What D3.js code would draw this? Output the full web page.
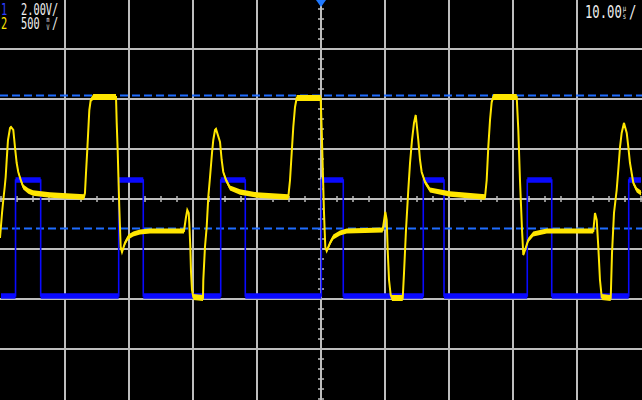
<!DOCTYPE html>
<html><head><meta charset="utf-8">
<script src="https://cdn.jsdelivr.net/npm/d3@7"></script>
<style>html,body{margin:0;padding:0;background:#000;}svg{display:block;}</style>
</head><body>
<svg id="c" width="642" height="400"></svg>
<script>
// ---- data ----
// time axis: 10 us/div, 10 divisions, centred on trigger (0 us)
const timeDomain = [-50, 50];
const ch1Scale = [-8, 8];      // 2.00 V/div, 8 divisions
const ch2Scale = [-2, 2];      // 500 mV/div, 8 divisions
const gridTimes = [-40, -30, -20, -10, 0, 10, 20, 30, 40];
const gridVolts = [-1.5, -1, -0.5, 0, 0.5, 1, 1.5];   // ch2 units
const refLevels = [1.04, -0.29];                      // ch2 units (dashed markers)
const ch1Labels = ["1", "2.00", "V", "/"];
const ch2Labels = ["2", " 500", "m", "V", "/"];
const timeLabels = ["10.00", "µ", "s", "/"];

// CH1 (blue) logic signal: low/high levels and edge times (us)
const ch1Low = -3.88, ch1High = 0.76, ch1Noise = 0.11;
const ch1Edges = [-47.73, -43.80, -31.61, -27.77, -15.67, -11.83, 0.05, 3.48, 15.98, 19.22, 32.23, 36.05, 48.08];

// CH2 (yellow) analog signal: [time us, volts, noise half-band volts]
const ch2 = [
 [-50.16,-0.39,.006],[-49.84,-0.14,.006],[-49.64,-0.01,.006],[-49.42,0.12,.006],[-49.27,0.22,.006],
 [-49.11,0.39,.006],[-48.91,0.59,.006],[-48.59,0.71,.01],[-48.44,0.72,.01],[-48.08,0.69,.01],
 [-47.97,0.62,.006],[-47.77,0.49,.006],[-47.55,0.36,.01],[-47.30,0.27,.015],[-46.92,0.19,.022],
 [-46.52,0.12,.025],[-45.73,0.08,.027],[-45.0,0.06,.027],[-42.34,0.04,.027],[-39.73,0.03,.027],
 [-37.03,0.02,.027],[-36.88,0.06,.006],[-36.72,0.26,.006],[-36.52,0.49,.006],[-36.36,0.69,.006],
 [-36.20,0.89,.006],[-35.98,0.99,.018],[-35.58,1.02,.03],[-32.03,1.02,.03],[-31.92,0.76,.006],
 [-31.77,0.49,.006],[-31.67,0.26,.006],[-31.52,-0.08,.006],[-31.30,-0.48,.006],[-31.09,-0.53,.012],
 [-30.63,-0.44,.022],[-30.11,-0.38,.025],[-29.33,-0.35,.025],[-28.28,-0.33,.025],[-26.72,-0.32,.025],
 [-21.41,-0.32,.025],[-21.09,-0.18,.008],[-20.89,-0.11,.01],[-20.67,-0.14,.008],[-20.58,-0.24,.006],
 [-20.42,-0.48,.006],[-20.31,-0.73,.006],[-20.16,-0.91,.006],[-19.95,-0.98,.03],[-18.44,-0.99,.03],
 [-18.39,-0.81,.006],[-18.13,-0.48,.006],[-17.86,-0.28,.006],[-17.61,0.02,.006],[-17.34,0.22,.006],
 [-17.03,0.46,.006],[-16.83,0.59,.006],[-16.56,0.69,.01],[-16.41,0.70,.01],
 [-15.78,0.57,.006],[-15.52,0.39,.01],[-15.27,0.27,.015],[-14.84,0.19,.022],[-14.22,0.11,.025],
 [-12.66,0.07,.027],[-10.05,0.04,.027],[-5.11,0.02,.027],[-4.84,0.19,.006],[-4.58,0.46,.006],
 [-4.33,0.72,.006],[-4.06,0.92,.006],[-3.80,1.01,.03],[-0.05,1.01,.03],[0.11,0.69,.006],
 [0.27,0.32,.006],[0.47,-0.14,.006],[0.67,-0.48,.006],[0.89,-0.52,.012],[1.41,-0.44,.022],
 [1.92,-0.38,.025],[2.97,-0.34,.025],[4.02,-0.32,.025],[9.64,-0.31,.025],[10.05,-0.13,.008],
 [10.27,-0.21,.006],[10.42,-0.51,.006],[10.63,-0.81,.006],[10.89,-0.96,.006],[11.09,-0.99,.03],
 [12.77,-0.99,.03],[12.97,-0.74,.006],[13.28,-0.31,.006],[13.64,0.09,.006],[13.91,0.36,.006],
 [14.22,0.59,.006],[14.53,0.76,.01],[14.80,0.84,.01],
 [15.20,0.59,.006],[15.47,0.39,.01],[15.73,0.27,.015],[16.25,0.17,.022],[17.03,0.09,.025],
 [20.16,0.05,.027],[25.63,0.02,.027],[25.89,0.19,.006],[26.14,0.52,.006],[26.41,0.79,.006],
 [26.67,0.97,.018],[26.92,1.02,.03],[30.58,1.02,.03],[30.83,0.69,.006],[31.09,0.19,.006],
 [31.41,-0.31,.006],[31.61,-0.56,.012],[31.88,-0.51,.015],[32.39,-0.41,.022],[33.17,-0.35,.025],
 [35.27,-0.32,.025],[42.55,-0.32,.025],[42.81,-0.14,.008],[43.08,-0.21,.006],[43.33,-0.48,.006],
 [43.59,-0.81,.006],[43.86,-0.98,.03],[45.27,-0.99,.03],[45.47,-0.54,.006],[45.78,-0.14,.006],
 [46.20,0.09,.006],[46.45,0.29,.006],[46.72,0.52,.006],[46.98,0.66,.01],[47.34,0.76,.01],
 [47.77,0.66,.006],[48.02,0.52,.006],[48.28,0.36,.012],[48.80,0.16,.02],[49.33,0.09,.025],[50.0,0.06,.025]
];

// ---- drawing ----
const svg = d3.select("#c");
const W = 642, H = 400;
svg.append("rect").attr("width", W).attr("height", H).attr("fill", "#000");

const x = d3.scaleLinear().domain(timeDomain).range([1, 641]);
const y2 = d3.scaleLinear().domain(ch2Scale).range([399, -1]);
const y1 = d3.scaleLinear().domain(ch1Scale).range([399, -1]);

const gridColor = "#bdbdbd";
const grid = svg.append("g");
grid.selectAll("line.v").data(gridTimes).join("line")
  .attr("x1", d => x(d)).attr("x2", d => x(d)).attr("y1", 0).attr("y2", H)
  .attr("stroke", gridColor).attr("stroke-width", 2);
grid.selectAll("line.h").data(gridVolts).join("line")
  .attr("y1", d => y2(d)).attr("y2", d => y2(d)).attr("x1", 0).attr("x2", W)
  .attr("stroke", gridColor).attr("stroke-width", 2);

// centre-axis minor ticks
const hTicks = d3.range(timeDomain[0], timeDomain[1] + 0.001, 2.5);
grid.selectAll("line.ht").data(hTicks).join("line")
  .attr("x1", d => x(d)).attr("x2", d => x(d))
  .attr("y1", y2(0) - 3).attr("y2", y2(0) + 3)
  .attr("stroke", gridColor).attr("stroke-width", 1.5);
const vTicks = d3.range(ch2Scale[0], ch2Scale[1] + 0.001, 0.1);
grid.selectAll("line.vt").data(vTicks).join("line")
  .attr("y1", d => y2(d)).attr("y2", d => y2(d))
  .attr("x1", x(0) - 3).attr("x2", x(0) + 3)
  .attr("stroke", gridColor).attr("stroke-width", 1.5);

// dashed reference levels
svg.selectAll("line.ref").data(refLevels).join("line")
  .attr("x1", 0).attr("x2", W).attr("y1", d => Math.round(y2(d)) + 0.5).attr("y2", d => Math.round(y2(d)) + 0.5)
  .attr("stroke", "#1e6cff").attr("stroke-width", 2).attr("stroke-dasharray", "8,4");

// CH1 step trace
const ch1Pts = [[timeDomain[0], ch1Low]];
let lvl = ch1Low;
ch1Edges.forEach(t => {
  ch1Pts.push([t, lvl]);
  lvl = (lvl === ch1Low) ? ch1High : ch1Low;
  ch1Pts.push([t, lvl]);
});
ch1Pts.push([timeDomain[1], lvl]);
const blue = "#0a0aff";
svg.append("path").datum(ch1Pts)
  .attr("d", d3.area().x(d => x(d[0])).y0(d => y1(d[1] - ch1Noise)).y1(d => y1(d[1] + ch1Noise)))
  .attr("fill", blue);
svg.append("path").datum(ch1Pts)
  .attr("d", d3.line().x(d => x(d[0])).y(d => y1(d[1])))
  .attr("fill", "none").attr("stroke", blue).attr("stroke-width", 1.6);

// CH2 analog trace
const yellow = "#ffe600";
svg.append("path").datum(ch2)
  .attr("d", d3.area().x(d => x(d[0])).y0(d => y2(d[1] - d[2])).y1(d => y2(d[1] + d[2])))
  .attr("fill", yellow);
svg.append("path").datum(ch2)
  .attr("d", d3.line().x(d => x(d[0])).y(d => y2(d[1])))
  .attr("fill", "none").attr("stroke", yellow).attr("stroke-width", 2);

// trigger position marker
const mx = x(0);
svg.append("path").attr("d", `M${mx - 5},0 L${mx + 5},0 L${mx},7 Z`).attr("fill", "#1e78ff");

// labels (scope style narrow monospace)
const font = "DejaVu Sans Mono";
// row 1
let g = svg.append("g").attr("transform", "translate(1,15) scale(0.645,1)");
g.append("text").attr("font-family", font).attr("font-size", 16).attr("fill", "#2a3cff").text(ch1Labels[0]);
g = svg.append("g").attr("transform", "translate(21,15) scale(0.645,1)");
g.append("text").attr("font-family", font).attr("font-size", 16).attr("fill", "#f0f0f0")
  .text(ch1Labels[1] + ch1Labels[2] + ch1Labels[3]);
// row 2
g = svg.append("g").attr("transform", "translate(1,29) scale(0.645,1)");
g.append("text").attr("font-family", font).attr("font-size", 16).attr("fill", "#ffe600").text(ch2Labels[0]);
g = svg.append("g").attr("transform", "translate(21,29) scale(0.645,1)");
let t = g.append("text").attr("font-family", font).attr("fill", "#f0f0f0").attr("font-size", 16);
t.append("tspan").attr("x", 0).attr("y", 0).text(ch2Labels[1]);
t.append("tspan").attr("x", 39.5).attr("y", -7).attr("font-size", 7.5).text(ch2Labels[2]);
t.append("tspan").attr("x", 39.5).attr("y", 1).attr("font-size", 7.5).text(ch2Labels[3]);
t.append("tspan").attr("x", 48).attr("y", 0).text(ch2Labels[4]);
// time/div
g = svg.append("g").attr("transform", "translate(585,18) scale(0.7,1)");
t = g.append("text").attr("font-family", font).attr("fill", "#f0f0f0").attr("font-size", 17.5);
t.append("tspan").attr("x", 0).attr("y", 0).text(timeLabels[0]);
t.append("tspan").attr("x", 54).attr("y", -7.5).attr("font-size", 8).text(timeLabels[1]);
t.append("tspan").attr("x", 54).attr("y", 1).attr("font-size", 8).text(timeLabels[2]);
t.append("tspan").attr("x", 63).attr("y", 0).text(timeLabels[3]);
</script>
</body></html>
